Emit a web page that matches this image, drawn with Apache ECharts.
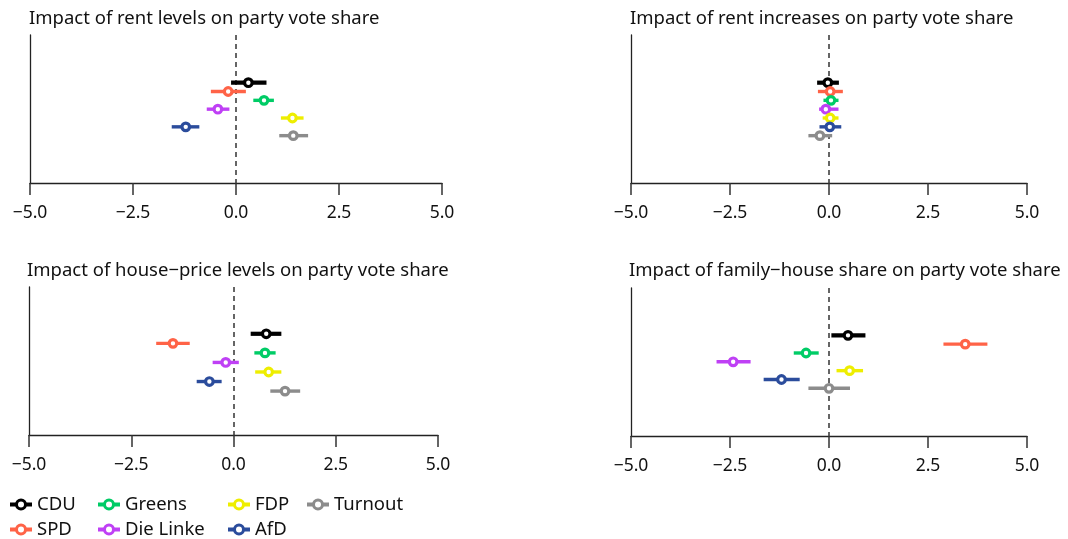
<!DOCTYPE html>
<html>
<head>
<meta charset="utf-8">
<script src="https://cdn.jsdelivr.net/npm/echarts@6/dist/echarts.min.js"></script>
<style>
html,body{margin:0;padding:0;background:#fff;}
#chart{width:1068px;height:539px;}
</style>
</head>
<body>
<div id="chart"></div>
<script>
// ---------- data ----------
const parties = ['CDU', 'SPD', 'Greens', 'Die Linke', 'FDP', 'AfD', 'Turnout'];
const partyColors = ['#000000', '#FF6347', '#00CC66', '#BF40F5', '#EEEE00', '#2B4C9C', '#8C8C8C'];
const panelTitles = [
  'Impact of rent levels on party vote share',
  'Impact of rent increases on party vote share',
  'Impact of house\u2212price levels on party vote share',
  'Impact of family\u2212house share on party vote share'
];
const xTicks = [-5, -2.5, 0, 2.5, 5];

// estimates, lower and upper bounds per panel (order follows `parties`)
const rentLevelEst   = [0.30, -0.19, 0.68, -0.44, 1.37, -1.22, 1.39];
const rentLevelLo    = [-0.12, -0.61, 0.42, -0.71, 1.09, -1.56, 1.05];
const rentLevelHi    = [0.74, 0.24, 0.92, -0.16, 1.64, -0.89, 1.75];

const rentIncEst     = [-0.03, 0.03, 0.05, -0.08, 0.03, 0.02, -0.23];
const rentIncLo      = [-0.30, -0.28, -0.14, -0.25, -0.16, -0.24, -0.52];
const rentIncHi      = [0.25, 0.35, 0.24, 0.24, 0.24, 0.31, 0.08];

const housePriceEst  = [0.80, -1.48, 0.77, -0.19, 0.86, -0.59, 1.26];
const housePriceLo   = [0.42, -1.89, 0.51, -0.51, 0.53, -0.90, 0.90];
const housePriceHi   = [1.17, -1.07, 1.03, 0.13, 1.17, -0.29, 1.63];

const familyHouseEst = [0.48, 3.44, -0.58, -2.42, 0.52, -1.20, 0.00];
const familyHouseLo  = [0.06, 2.89, -0.89, -2.84, 0.19, -1.65, -0.52];
const familyHouseHi  = [0.92, 4.00, -0.26, -1.98, 0.86, -0.74, 0.53];

// ---------- layout ----------
const panels = [
  {est: rentLevelEst, lo: rentLevelLo, hi: rentLevelHi},
  {est: rentIncEst, lo: rentIncLo, hi: rentIncHi},
  {est: housePriceEst, lo: housePriceLo, hi: housePriceHi},
  {est: familyHouseEst, lo: familyHouseLo, hi: familyHouseHi}
];
const grids = [
  {left: 30, top: 35, width: 412, height: 148},
  {left: 631, top: 35, width: 396, height: 148},
  {left: 29, top: 287, width: 409, height: 148},
  {left: 631, top: 288, width: 396, height: 148}
];
const yRanges = [[-4.4, 12.36], [-4.4, 12.36], [-3.9, 11.6], [-4.36, 12.4]];
const titlePos = [{left: 29, top: 9}, {left: 630, top: 9}, {left: 27, top: 261}, {left: 629, top: 261}];

const FONT = 'Noto Sans';
const fmt = v => (v < 0 ? '\u2212' : '') + Math.abs(v).toFixed(1);

const xAxes = grids.map((g, i) => ({
  type: 'value', gridIndex: i, min: xTicks[0], max: xTicks[xTicks.length - 1], interval: 2.5,
  axisLine: {show: true, onZero: false, lineStyle: {color: '#222', width: 1.3}},
  axisTick: {show: true, length: 12, lineStyle: {color: '#333', width: 1.5}},
  axisLabel: {show: true, margin: 21, fontSize: 17.5, color: '#111', fontFamily: FONT, formatter: fmt},
  splitLine: {show: false}
}));
const yAxes = grids.map((g, i) => ({
  type: 'value', gridIndex: i, inverse: true, min: yRanges[i][0], max: yRanges[i][1],
  axisLine: {show: true, onZero: false, lineStyle: {color: '#222', width: 1.3}},
  axisTick: {show: false}, axisLabel: {show: false}, splitLine: {show: false}
}));

function renderItem(params, api) {
  const est = api.value(0), lo = api.value(1), hi = api.value(2), idx = api.value(3);
  const color = api.visual('color');
  const pLo = api.coord([lo, idx]);
  const pHi = api.coord([hi, idx]);
  const pEst = api.coord([est, idx]);
  const w = idx === 1 ? 4.2 : 3.4;
  return {
    type: 'group',
    children: [
      {type: 'line', shape: {x1: pLo[0], y1: pLo[1], x2: pHi[0], y2: pHi[1]},
       style: {stroke: color, lineWidth: w}},
      {type: 'circle', shape: {cx: pEst[0], cy: pEst[1], r: 3.8},
       style: {fill: '#fff', stroke: color, lineWidth: 3.2}}
    ]
  };
}

const series = [];
panels.forEach((p, pi) => {
  parties.forEach((name, k) => {
    const s = {
      type: 'custom', name: name, xAxisIndex: pi, yAxisIndex: pi,
      itemStyle: {color: partyColors[k]},
      renderItem: renderItem,
      encode: {x: [0, 1, 2], y: 3},
      data: [[p.est[k], p.lo[k], p.hi[k], k + 1]],
      z: 3
    };
    if (k === 0) {
      s.markLine = {
        silent: true, symbol: 'none', label: {show: false},
        lineStyle: {color: '#333', type: [5, 4], width: 1.5},
        data: [{xAxis: 0}], z: 1
      };
    }
    series.push(s);
  });
});

const legendIcon = 'path://M5 6A6 6 0 1 1 17 6A6 6 0 1 1 5 6ZM8 6A3 3 0 1 0 14 6A3 3 0 1 0 8 6ZM0 4H5.4V8H0ZM16.6 4H22V8H16.6Z';
// legend placement: column-major, two rows
const legendLeftByParty = [10, 10, 98, 98, 228, 228, 307];
const legendTopByParty = [495, 520, 495, 520, 495, 520, 495];
const legends = parties.map((name, i) => ({
  data: [name], left: legendLeftByParty[i], top: legendTopByParty[i], padding: 0,
  itemWidth: 22, itemHeight: 12, icon: legendIcon,
  textStyle: {fontSize: 18.5, color: '#111', fontFamily: FONT},
  selectedMode: false
}));

const option = {
  animation: false,
  backgroundColor: '#fff',
  textStyle: {fontFamily: FONT},
  title: panelTitles.map((t, i) => ({
    text: t, left: titlePos[i].left, top: titlePos[i].top, padding: 0,
    textStyle: {fontSize: 18.5, fontWeight: 'normal', color: '#111', fontFamily: FONT}
  })),
  grid: grids,
  xAxis: xAxes,
  yAxis: yAxes,
  legend: legends,
  series: series
};

const chart = echarts.init(document.getElementById('chart'), null, {renderer: 'canvas'});
chart.setOption(option);
</script>
</body>
</html>
